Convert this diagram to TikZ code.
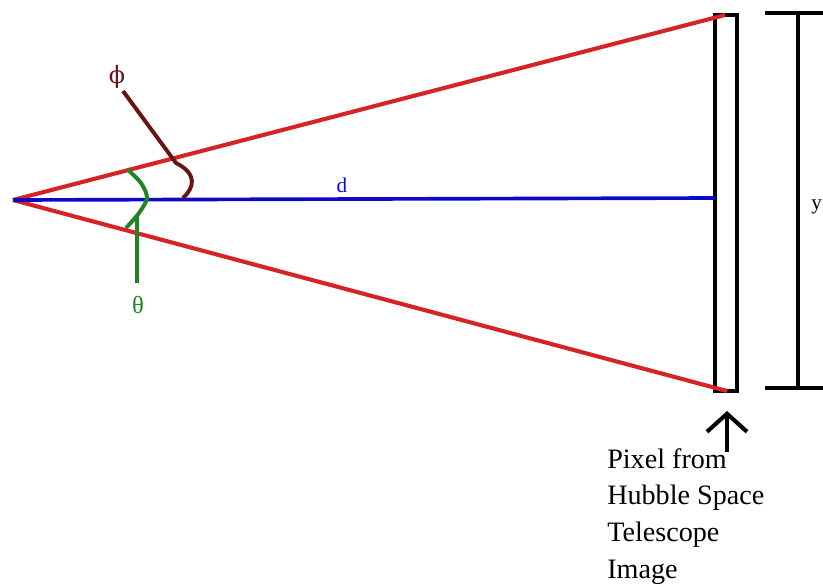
\documentclass[tikz,border=0pt]{standalone}
\usepackage{fontspec}
\setmainfont{Liberation Serif}
\newfontfamily\greekfont{DejaVu Serif}
\usetikzlibrary{arrows.meta}

\definecolor{raycol}{RGB}{215,35,35}
\definecolor{axiscol}{RGB}{10,10,200}
\definecolor{thetacol}{RGB}{35,130,35}
\definecolor{phicol}{RGB}{105,20,20}

\tikzset{
    ray/.style={line width=2.9pt, raycol},
    axisline/.style={line width=2.6pt, axiscol},
    frameline/.style={line width=2.9pt, black},
    anglemark/.style={line width=2.8pt, line join=round},
    lbl/.style={inner sep=0pt, font=\fontsize{15}{18}\selectfont}
}

\begin{document}
\begin{tikzpicture}[x=0.025cm, y=-0.025cm]
    \useasboundingbox (0,0) rectangle (823,586);

    % Puntos principales
    \coordinate (apex) at (13,200);
    \coordinate (topEnd) at (725,15);
    \coordinate (botEnd) at (727,391);
    \coordinate (axisEnd) at (715,198);

    % Píxel (rectángulo)
    \draw[frameline] (715,15) rectangle (737,391);

    % Rayos rojos
    \draw[ray] (apex) -- (topEnd);
    \draw[ray] (apex) -- (botEnd);

    % Distancia d
    \draw[axisline] (apex) -- (axisEnd);
    \node[lbl, axiscol] (dLabel) at (342,185) {d};

    % Medida y
    \draw[frameline] (798,13) -- (798,388);
    \draw[frameline] (765,13) -- (830,13);
    \draw[frameline] (765,388) -- (830,388);
    \node[lbl, anchor=west] (yLabel) at (811,207) {y};

    % Ángulo theta
    \draw[anglemark, thetacol] plot[smooth] coordinates {(127,169) (141,183) (147,198) (139,213) (126,228)};
    \coordinate (thetaFoot) at (137,283);
    \draw[anglemark, thetacol] (137,216) -- (thetaFoot);
    \node[lbl, thetacol, font=\fontsize{17.5}{20}\selectfont] (thetaLabel) at (138,305) {θ};

    % Ángulo phi
    \coordinate (phiTip) at (123,91);
    \draw[anglemark, phicol] (phiTip) -- (176,163) .. controls (198,174) and (194,188) .. (183,198);
    \node[lbl, phicol, font=\greekfont\fontsize{17}{20}\selectfont] (phiLabel) at (117,77) {ϕ};

    % Flecha y texto
    \node[inner sep=0pt, anchor=north west, align=left, font=\fontsize{20}{26.2}\selectfont] (pixelText) at (607,448)
        {Pixel from\\Hubble Space\\Telescope\\Image};
    \coordinate (arrowTip) at (727,411);
    \coordinate (arrowBase) at (727,452);
    \draw[line width=2.9pt, -{Straight Barb[length=4.5mm, width=10mm, line width=2.9pt]}] (arrowBase) -- (arrowTip);

\end{tikzpicture}
\end{document}
